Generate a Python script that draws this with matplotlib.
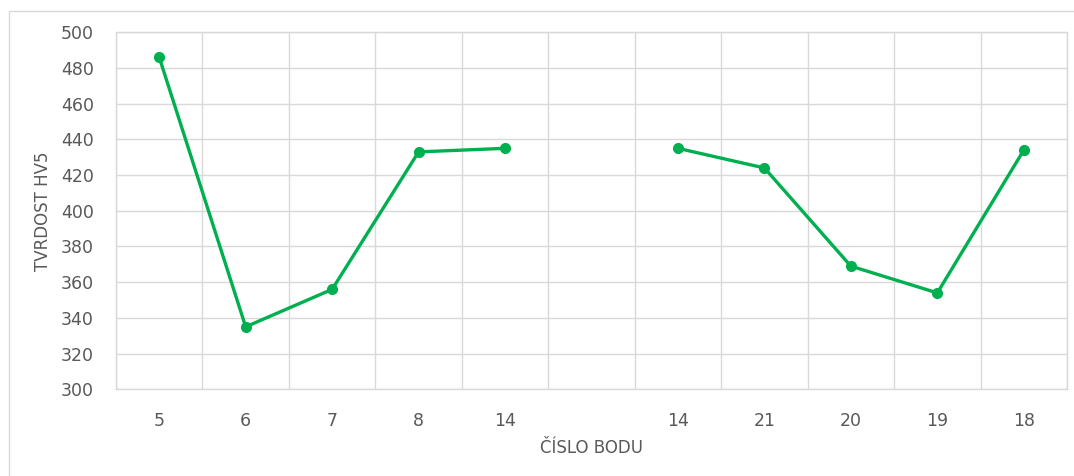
import numpy as np
import matplotlib.pyplot as plt
from matplotlib.patches import Rectangle

# body labels along the x axis (blank slot separates the two series)
labels = ["5", "6", "7", "8", "14", "", "14", "21", "20", "19", "18"]
hardness = [486, 335, 356, 433, 435, None, 435, 424, 369, 354, 434]

green = "#00B050"
grid_c = "#D9D9D9"
text_c = "#595959"

plt.rcParams['font.family'] = ['DejaVu Sans']

fig = plt.figure(figsize=(10.74, 4.76), dpi=100)
ax = fig.add_axes([116/1074, 1-389.3/476, (1067-116)/1074, (389.3-32.3)/476])

x = np.arange(len(labels))
y = np.array([np.nan if v is None else v for v in hardness], dtype=float)
ax.plot(x, y, color=green, lw=2.4, marker='o', ms=7, mfc=green, mec=green,
        solid_capstyle='round', zorder=3)

ax.set_xlim(-0.5, len(labels)-0.5)
ax.set_ylim(300, 500)
ax.set_yticks(range(300, 501, 20))
ax.set_xticks(x)
ax.set_xticklabels(labels)
ax.set_xticks(np.arange(-0.5, len(labels), 1), minor=True)

ax.grid(True, axis='y', which='major', color=grid_c, lw=1.0)
ax.grid(True, axis='x', which='minor', color=grid_c, lw=1.0)
ax.grid(False, axis='x', which='major')
ax.set_axisbelow(True)
for s in ax.spines.values():
    s.set_color(grid_c)
    s.set_linewidth(1.0)

ax.tick_params(axis='both', which='both', length=0, colors=text_c, labelsize=12.5)
ax.tick_params(axis='x', which='major', pad=16)
ax.tick_params(axis='y', pad=16)

ax.set_ylabel("TVRDOST HV5", color=text_c, fontsize=12, labelpad=6)
ax.set_xlabel("ČÍSLO BODU", color=text_c, fontsize=12, labelpad=7)

# chart area border
fig.patches.append(Rectangle((9/1074, -0.1), 1.2, 1-11/476+0.1, transform=fig.transFigure,
                             fill=False, ec=grid_c, lw=1.0))

fig.savefig("out.png", dpi=100)
